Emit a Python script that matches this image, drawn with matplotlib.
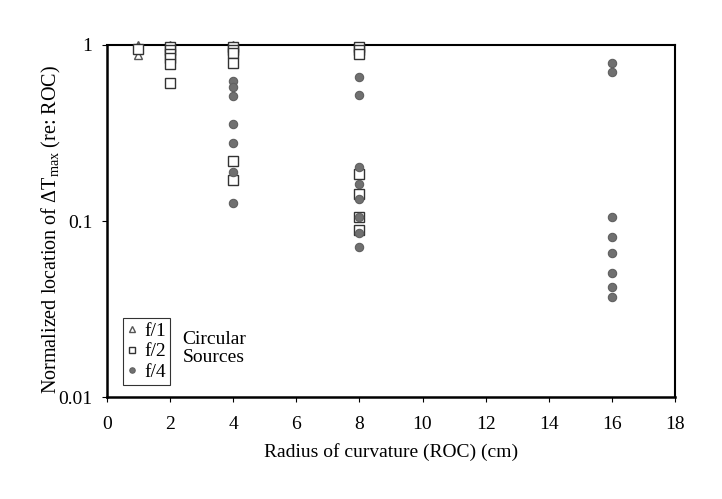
import matplotlib
matplotlib.use("Agg")
import matplotlib.pyplot as plt

plt.rcParams['font.family'] = ['Liberation Serif', 'DejaVu Serif']
plt.rcParams['mathtext.fontset'] = 'custom'
plt.rcParams['mathtext.rm'] = 'Liberation Serif'
plt.rcParams['mathtext.it'] = 'Liberation Serif:italic'

# f/1 triangles
x_f1 = [1, 1, 1, 2, 4]
y_f1 = [1.0, 0.97, 0.88, 1.0, 1.0]

# f/2 squares
x_f2 = [1, 2, 2, 2, 2, 2, 2, 4, 4, 4, 4, 4, 4, 8, 8, 8, 8, 8, 8, 8]
y_f2 = [0.95, 0.97, 0.94, 0.89, 0.84, 0.78, 0.61, 0.97, 0.94, 0.90, 0.79, 0.22, 0.17,
        0.97, 0.94, 0.89, 0.185, 0.142, 0.105, 0.089]

# f/4 circles
x_f4 = [4, 4, 4, 4, 4, 4, 4, 8, 8, 8, 8, 8, 8, 8, 8, 16, 16, 16, 16, 16, 16, 16, 16]
y_f4 = [0.62, 0.58, 0.51, 0.355, 0.277, 0.19, 0.127,
        0.66, 0.52, 0.203, 0.163, 0.133, 0.105, 0.085, 0.071,
        0.79, 0.70, 0.106, 0.081, 0.066, 0.051, 0.042, 0.037]

fig = plt.figure(figsize=(7.22, 4.99), dpi=100)
ax = fig.add_axes([0.148, 0.204, 0.787, 0.706])

ax.plot(x_f1, y_f1, linestyle='none', marker='^', markersize=6, markerfacecolor='white',
        markeredgecolor='#555555', markeredgewidth=1, label='f/1', clip_on=False, zorder=3)
ax.plot(x_f2, y_f2, linestyle='none', marker='s', markersize=6.5, markerfacecolor='white',
        markeredgecolor='#333333', markeredgewidth=1, label='f/2', clip_on=False, zorder=3)
ax.plot(x_f4, y_f4, linestyle='none', marker='o', markersize=6, markerfacecolor='#707070',
        markeredgecolor='#606060', markeredgewidth=0.8, label='f/4', clip_on=False, zorder=4)

ax.set_yscale('log')
ax.set_ylim(0.01, 1)
ax.set_xlim(0, 18)
ax.set_xticks(range(0, 19, 2))
ax.set_yticks([0.01, 0.1, 1])
ax.set_yticklabels(['0.01', '0.1', '1'])
ax.minorticks_off()
ax.tick_params(axis='both', direction='out', length=3.5, width=0.8, labelsize=14,
               colors='black')
ax.tick_params(axis='x', pad=10)
ax.tick_params(axis='y', pad=7)

for s in ['left', 'bottom']:
    ax.spines[s].set_linewidth(1.8)
for s in ['top', 'right']:
    ax.spines[s].set_linewidth(1.5)

ax.set_xlabel('Radius of curvature (ROC) (cm)', fontsize=14, labelpad=7)
ax.set_ylabel(r'Normalized location of $\Delta$T$_{\mathrm{max}}$ (re: ROC)', fontsize=14.5)
ax.yaxis.set_label_coords(-0.078, 0.475)

leg = ax.legend(loc='lower left', bbox_to_anchor=(0.028, 0.035), fontsize=14, frameon=True,
                fancybox=False, edgecolor='black', handlelength=0.5, handletextpad=0.4,
                borderpad=0.2, labelspacing=0.15, markerscale=0.65, borderaxespad=0)
leg.get_frame().set_linewidth(0.8)

ax.text(0.133, 0.138, 'Circular\nSources', transform=ax.transAxes, fontsize=14,
        ha='left', va='center', linespacing=1.1)

fig.savefig('out.png', dpi=100)
